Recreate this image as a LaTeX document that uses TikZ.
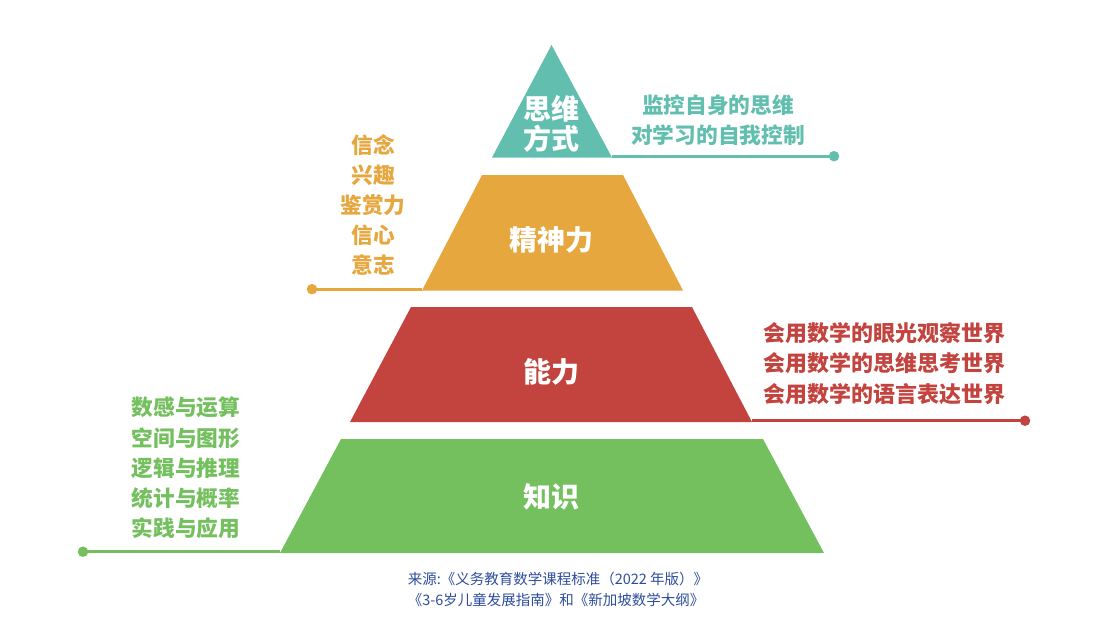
\documentclass[tikz,border=0pt]{standalone}
\usepackage{fontspec}
\setmainfont{Noto Sans CJK SC}
\definecolor{cteal}{HTML}{62BFAF}
\definecolor{corange}{HTML}{E6A73F}
\definecolor{cred}{HTML}{C3443F}
\definecolor{cgreen}{HTML}{74C05F}
\definecolor{cblue}{HTML}{2E4E9C}
\begin{document}
\begin{tikzpicture}[x=1pt,y=1pt,
  tier/.style={fill=#1, draw=none},
  lead/.style={draw=#1, line width=2.8pt},
  dot/.style={circle, fill=#1, draw=none, inner sep=0pt, minimum size=10.5pt},
  whitelabel/.style={text=white, font=\fontsize{28}{30}\selectfont\bfseries, align=center, inner sep=0pt},
  sidelabel/.style={text=#1, font=\fontsize{21.7}{30.2}\selectfont\bfseries, align=center, inner sep=0pt},
  sourcelabel/.style={text=cblue, font=\fontsize{14.5}{21}\selectfont, align=left, inner sep=0pt},
]
\useasboundingbox (0,0) rectangle (1119,-626);
\fill[white] (0,0) rectangle (1119,-626);

% tiers
\fill[tier=cteal] (551.5,-45) -- (612,-157.5) -- (492,-157.5) -- cycle;
\fill[tier=corange] (482,-175) -- (623,-175) -- (683,-290.5) -- (422,-290.5) -- cycle;
\fill[tier=cred] (411,-307) -- (692,-307) -- (752,-422) -- (350,-422) -- cycle;
\fill[tier=cgreen] (341,-439) -- (763,-439) -- (824,-553) -- (280,-553) -- cycle;

% connector ends
\coordinate (tbase) at (612,-156.2);
\coordinate (obase) at (422,-289.2);
\coordinate (rbase) at (752,-420.7);
\coordinate (gbase) at (280,-551.7);
\node[dot=cteal] (tdot) at (834,-156.2) {};
\node[dot=corange] (odot) at (312,-289.2) {};
\node[dot=cred] (rdot) at (1025,-420.7) {};
\node[dot=cgreen] (gdot) at (83,-551.7) {};
\draw[lead=cteal] (tbase) -- (tdot.center);
\draw[lead=corange] (obase) -- (odot.center);
\draw[lead=cred] (rbase) -- (rdot.center);
\draw[lead=cgreen] (gbase) -- (gdot.center);

% tier labels
\node[whitelabel] (tl) at (551.5,-123.5) {思维\\方式};
\node[whitelabel] (ol) at (551.5,-240) {精神力};
\node[whitelabel] (rl) at (551.5,-372) {能力};
\node[whitelabel] (gl) at (551.5,-497) {知识};

% side labels
\node[sidelabel=cteal] (tside) at (718,-120) {监控自身的思维\\对学习的自我控制};
\node[sidelabel=corange] (oside) at (373,-205) {信念\\兴趣\\鉴赏力\\信心\\意志};
\node[sidelabel=cred, font=\fontsize{22}{30.4}\selectfont\bfseries] (rside) at (884.5,-363.5) {会用数学的眼光观察世界\\会用数学的思维思考世界\\会用数学的语言表达世界};
\node[sidelabel=cgreen] (gside) at (186,-468) {数感与运算\\空间与图形\\逻辑与推理\\统计与概率\\实践与应用};

% source
\node[sourcelabel] (src) at (558,-589) {来源:《义务教育数学课程标准（2022 年版）》\\《3-6岁儿童发展指南》和《新加坡数学大纲》};
\end{tikzpicture}
\end{document}
